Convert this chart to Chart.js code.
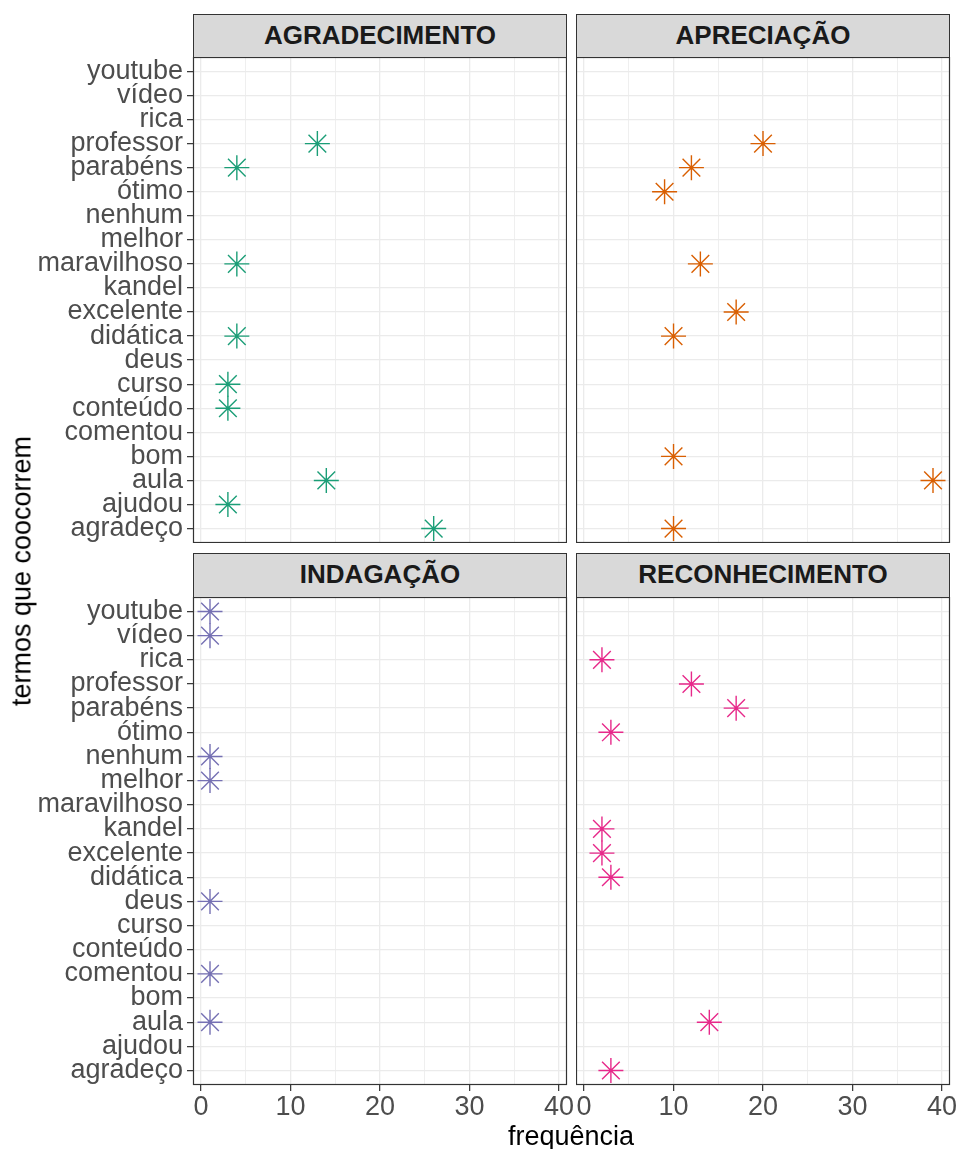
<!DOCTYPE html>
<html>
<head>
<meta charset="utf-8">
<script src="https://cdn.jsdelivr.net/npm/chart.js@4.4.1/dist/chart.umd.min.js"></script>
<style>
  html, body { margin: 0; padding: 0; background: #ffffff; }
  body { width: 959px; height: 1149px; position: relative; overflow: hidden; font-family: "Liberation Sans", Arial, sans-serif; }
  .box { position: absolute; }
  .strip { position: absolute; box-sizing: border-box; background: #D9D9D9; border: 1px solid #333333;
           color: #1A1A1A; font-weight: bold; font-size: 26px; text-align: center; line-height: 41px; }
  .ytitle { position: absolute; left: 22px; top: 571px; transform: translate(-50%, -50%) rotate(-90deg);
            white-space: nowrap; font-size: 27px; color: #000; }
  .xtitle { position: absolute; left: 571px; top: 1123px; transform: translateX(-50%);
            white-space: nowrap; font-size: 27px; line-height: 27px; color: #000; }
</style>
</head>
<body>
<div class="strip" style="left:193px; top:14px; width:374px; height:44px;">AGRADECIMENTO</div>
<div class="strip" style="left:576px; top:14px; width:374px; height:44px;">APRECIAÇÃO</div>
<div class="strip" style="left:193px; top:553px; width:374px; height:45px;">INDAGAÇÃO</div>
<div class="strip" style="left:576px; top:553px; width:374px; height:45px;">RECONHECIMENTO</div>

<div class="box" style="left:0px; top:57px; width:567px; height:486px;"><canvas id="c1"></canvas></div>
<div class="box" style="left:576px; top:57px; width:384px; height:486px;"><canvas id="c2"></canvas></div>
<div class="box" style="left:0px; top:597px; width:581px; height:528px;"><canvas id="c3"></canvas></div>
<div class="box" style="left:576px; top:597px; width:384px; height:528px;"><canvas id="c4"></canvas></div>

<div class="ytitle">termos que coocorrem</div>
<div class="xtitle">frequência</div>

<script>
// ---- data ----
const categories = ['agradeço','ajudou','aula','bom','comentou','conteúdo','curso','deus','didática','excelente','kandel','maravilhoso','melhor','nenhum','ótimo','parabéns','professor','rica','vídeo','youtube'];
const xTickValues = [0, 5, 10, 15, 20, 25, 30, 35, 40];

const agradecimentoTerms = ['professor','parabéns','maravilhoso','didática','curso','conteúdo','aula','ajudou','agradeço'];
const agradecimentoFreq  = [13, 4, 4, 4, 3, 3, 14, 3, 26];

const apreciacaoTerms = ['professor','parabéns','ótimo','maravilhoso','excelente','didática','bom','aula','agradeço'];
const apreciacaoFreq  = [20, 12, 9, 13, 17, 10, 10, 39, 10];

const indagacaoTerms = ['youtube','vídeo','nenhum','melhor','deus','comentou','aula'];
const indagacaoFreq  = [1, 1, 1, 1, 1, 1, 1];

const reconhecimentoTerms = ['rica','professor','parabéns','ótimo','kandel','excelente','didática','aula','agradeço'];
const reconhecimentoFreq  = [2, 12, 17, 3, 2, 2, 3, 14, 3];

const colors = { agr: '#1B9E77', apr: '#D95F02', ind: '#7570B3', rec: '#E7298A' };

// ---- helpers ----
function toPoints(terms, freq) {
  return terms.map((t, i) => ({ x: freq[i], y: categories.indexOf(t) + 1 }));
}

const borderPlugin = {
  id: 'panelBorder',
  afterDraw(chart) {
    const a = chart.chartArea, ctx = chart.ctx;
    ctx.save();
    ctx.strokeStyle = '#333333';
    ctx.lineWidth = 1.2;
    ctx.strokeRect(a.left + 0.5, a.top + 0.5, a.right - a.left - 1, a.bottom - a.top - 1);
    ctx.restore();
  }
};

function makeChart(id, pts, color, showY, showX, padRight) {
  const font = { family: '"Liberation Sans", Arial, sans-serif', size: 27, lineHeight: 1 };
  return new Chart(document.getElementById(id), {
    type: 'scatter',
    data: { datasets: [{
      data: pts,
      pointStyle: 'star',
      radius: 12.5,
      hoverRadius: 12.5,
      borderColor: color,
      backgroundColor: color,
      borderWidth: 1.4
    }]},
    options: {
      responsive: true,
      maintainAspectRatio: false,
      animation: false,
      events: [],
      layout: { autoPadding: false, padding: { left: 0, top: 0, bottom: 0, right: padRight } },
      plugins: { legend: { display: false }, tooltip: { enabled: false }, title: { display: false } },
      scales: {
        x: {
          type: 'linear',
          min: -0.9, max: 40.9,
          afterBuildTicks: s => { s.ticks = xTickValues.map(v => ({ value: v })); },
          afterFit: s => {
            s.height = showX ? 40 : 0;
            s.paddingLeft = 0; s.paddingRight = 0; s.paddingTop = 0; s.paddingBottom = 0;
          },
          border: { display: false },
          grid: {
            color: '#EBEBEB',
            lineWidth: c => (c.tick && c.tick.value % 10 === 0) ? 1.3 : 0.8,
            drawTicks: showX,
            tickLength: 6,
            tickColor: c => (c.tick && c.tick.value % 10 === 0) ? '#333333' : 'rgba(0,0,0,0)',
            tickWidth: 1.2
          },
          ticks: {
            display: showX,
            padding: 3,
            autoSkip: false,
            maxRotation: 0,
            color: '#4D4D4D',
            font: font,
            callback: v => (v % 10 === 0 ? String(v) : '')
          }
        },
        y: {
          type: 'linear',
          min: 0.4, max: 20.6,
          afterBuildTicks: s => { s.ticks = categories.map((c, i) => ({ value: i + 1 })); },
          afterFit: s => {
            s.width = showY ? 193 : 0;
            s.paddingLeft = 0; s.paddingRight = 0; s.paddingTop = 0; s.paddingBottom = 0;
          },
          border: { display: false },
          grid: {
            color: '#EBEBEB',
            lineWidth: 1.3,
            drawTicks: showY,
            tickLength: 6,
            tickColor: '#333333',
            tickWidth: 1.2
          },
          ticks: {
            display: showY,
            padding: 4,
            autoSkip: false,
            color: '#4D4D4D',
            font: font,
            callback: v => categories[Math.round(v) - 1]
          }
        }
      }
    },
    plugins: [borderPlugin]
  });
}

makeChart('c1', toPoints(agradecimentoTerms, agradecimentoFreq), colors.agr, true, false, 0);
makeChart('c2', toPoints(apreciacaoTerms, apreciacaoFreq), colors.apr, false, false, 10);
makeChart('c3', toPoints(indagacaoTerms, indagacaoFreq), colors.ind, true, true, 14);
makeChart('c4', toPoints(reconhecimentoTerms, reconhecimentoFreq), colors.rec, false, true, 10);
</script>
</body>
</html>
